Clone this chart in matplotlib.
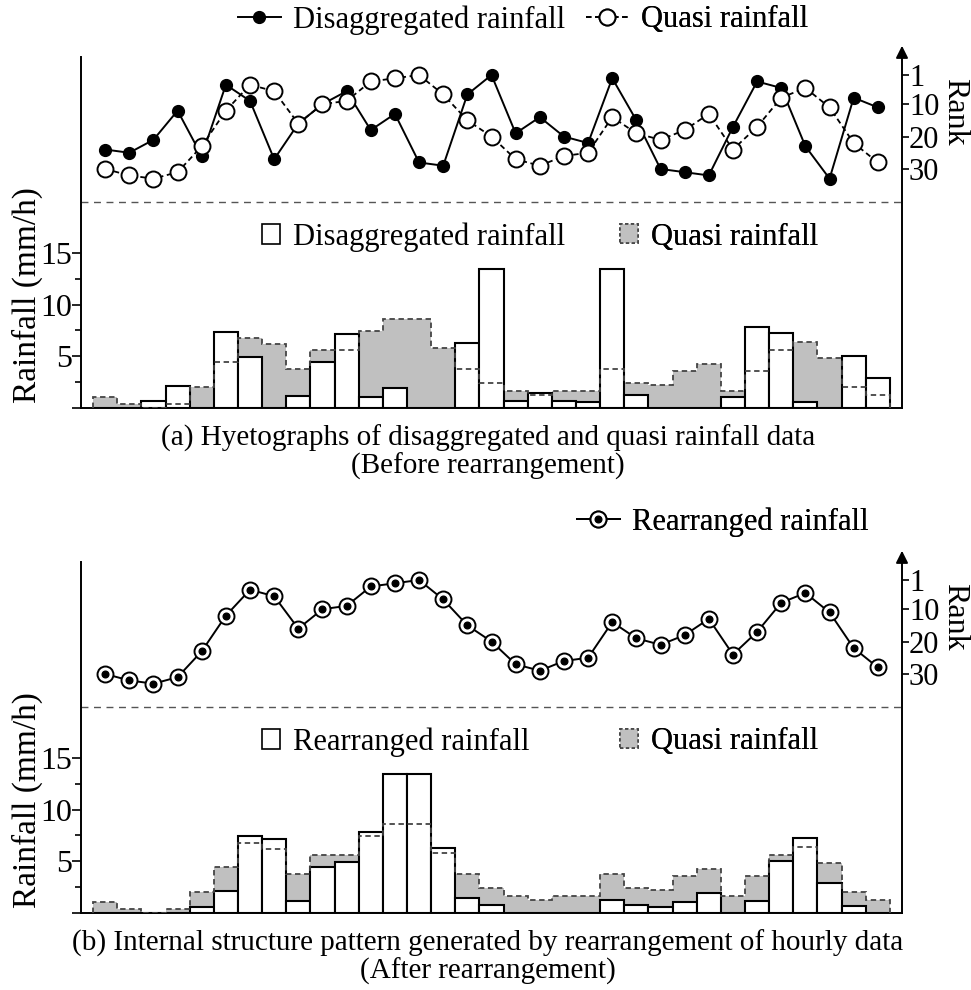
import numpy as np
import matplotlib.pyplot as plt
from matplotlib.patches import Patch

plt.rcParams['font.family'] = 'Liberation Serif'
plt.rcParams['font.size'] = 21

hours = np.arange(1, 34)

# hourly rainfall (mm/h)
disaggregated = [0, 0, 0.65, 2.14, 0, 7.38, 4.95, 0, 1.13, 4.4, 7.12, 1.0, 1.94, 0, 0, 6.31,
                 13.5, 0.68, 1.39, 0.66, 0.58, 13.5, 1.2, 0, 0, 0, 1.07, 7.8, 7.28, 0.56, 0, 5.0, 2.9]
quasi = [1.0, 0.4, 0, 0.4, 2.0, 4.4, 6.8, 6.2, 3.8, 5.6, 5.6, 7.4, 8.6, 8.6, 5.8, 3.8,
         2.4, 1.6, 1.2, 1.6, 1.6, 3.8, 2.4, 2.2, 3.6, 4.2, 1.6, 3.6, 5.6, 6.4, 4.8, 2.0, 1.2]
rearranged = [0, 0, 0, 0, 0.6, 2.1, 7.4, 7.15, 1.1, 4.43, 4.92, 7.83, 13.5, 13.5, 6.31, 1.42,
              0.72, 0, 0, 0, 0, 1.2, 0.71, 0.55, 1.0, 1.9, 0, 1.1, 5.0, 7.3, 2.9, 0.65, 0]

# ranks (1 = largest)
rank_disaggregated = [24, 25, 21, 12, 26, 4, 9, 27, 16, 10, 6, 18, 13, 28, 29, 7, 1,
                      19, 14, 20, 22, 2, 15, 30, 31, 32, 17, 3, 5, 23, 33, 8, 11]
rank_quasi = [30, 32, 33, 31, 23, 12, 4, 6, 16, 10, 9, 3, 2, 1, 7, 15, 20,
              27, 29, 26, 25, 14, 19, 21, 18, 13, 24, 17, 8, 5, 11, 22, 28]
rank_rearranged = [30, 32, 33, 31, 23, 12, 4, 6, 16, 10, 9, 3, 2, 1, 7, 15, 20,
                   27, 29, 26, 25, 14, 19, 21, 18, 13, 24, 17, 8, 5, 11, 22, 28]
rank_ticks = [1, 10, 20, 30]

W, H = 971, 990
fig = plt.figure(figsize=(W / 100, H / 100), dpi=100)

GRAY = '#c0c0c0'
DASH = '#444444'
LEG_FS = 22


def px(x, y):
    return x / W, 1 - y / H


def key(ax, handle, label, x, y, **kw):
    leg = ax.legend([handle], [label], loc='center left', bbox_to_anchor=px(x, y),
                    bbox_transform=fig.transFigure, frameon=False, borderpad=0,
                    borderaxespad=0, handletextpad=0.4, fontsize=LEG_FS, **kw)
    ax.add_artist(leg)


def panel(top, bars, bar_name, rank_series, caption):
    bottom = top + 350.7
    ax = fig.add_axes([81 / W, 1 - bottom / H, 821 / W, 350.7 / H])
    ax.set_xlim(0, 34)
    ax.set_ylim(0, 34.05)

    edges = np.arange(0.5, 34.5, 1)
    ax.bar(hours, quasi, width=1, color=GRAY, lw=0, zorder=1)
    ax.bar(hours, bars, width=1, facecolor='white', edgecolor='black', lw=1.5, zorder=2)
    ax.stairs(quasi, edges, baseline=0, color=DASH, lw=1.3, ls=(0, (3, 2)), zorder=3)
    ax.axhline(20, color='#555555', lw=1.0, ls=(0, (5, 4)), zorder=1)

    ax.set_xticks([])
    ax.set_yticks([0, 5, 10, 15])
    ax.set_yticklabels(['', '5', '10', '15'])
    ax.set_yticks([2.5, 7.5, 12.5], minor=True)
    ax.tick_params(axis='y', which='major', length=6.5, width=1.2, labelsize=23, pad=0)
    ax.tick_params(axis='y', which='minor', length=4.5, width=1.2)
    for s in ['top', 'right']:
        ax.spines[s].set_visible(False)
    for s in ['left', 'bottom']:
        ax.spines[s].set_linewidth(1.4)
    fig.text(*px(27, top - 57 + 295), 'Rainfall (mm/h)', rotation=90,
             ha='center', va='center', fontsize=24)

    # rank axis on the right
    ax2 = ax.twinx()
    ax2.set_ylim(103.7, -4.56)
    ax2.set_yticks(rank_ticks)
    ax2.tick_params(axis='y', length=5, width=1.2, labelsize=22, pad=0)
    for s in ['top', 'left', 'bottom']:
        ax2.spines[s].set_visible(False)
    ax2.spines['right'].set_linewidth(1.4)
    ax2.annotate('', xy=(1, 1.04), xytext=(1, 0.99), xycoords='axes fraction',
                 arrowprops=dict(arrowstyle='-|>', color='black', lw=1.4, mutation_scale=18))
    fig.text(*px(955, top - 57 + 112), 'Rank', rotation=-90, ha='center', va='center', fontsize=23)

    for handle, label, x, y in rank_series(ax2):
        key(ax2, handle, label, x, top - 57 + y, handlelength=1.4)

    key(ax, Patch(facecolor='white', edgecolor='black', lw=1.2), bar_name, 262, top - 57 + 237,
        handlelength=0.6, handleheight=0.6)
    key(ax, Patch(facecolor=GRAY, edgecolor=DASH, lw=1.2, ls=(0, (2, 1.5))), 'Quasi rainfall',
        620, top - 57 + 237, handlelength=0.6, handleheight=0.6)

    for i, line in enumerate(caption):
        fig.text(*px(488, bottom + 31 + 28 * i), line, ha='center', va='center', fontsize=21)
    return ax, ax2


def ranks_a(ax2):
    solid = ax2.plot(hours, rank_disaggregated, '-', color='black', lw=1.4,
                     marker='o', ms=8.5, mfc='black', mec='black', zorder=3)[0]
    open_ = ax2.plot(hours, rank_quasi, color='black', lw=1.3, ls=(0, (3, 2)),
                     marker='o', ms=11.5, mfc='white', mec='black', mew=1.4, zorder=4)[0]
    return [(solid, 'Disaggregated rainfall', 238, 20),
            (open_, 'Quasi rainfall', 586, 20)]


def ranks_b(ax2):
    outer = ax2.plot(hours, rank_rearranged, '-', color='black', lw=1.4,
                     marker='o', ms=11.5, mfc='white', mec='black', mew=1.4, zorder=3)[0]
    inner = ax2.plot(hours, rank_rearranged, ls='none', marker='o', ms=4.8,
                     mfc='black', mec='black', zorder=4)[0]
    return [((outer, inner), 'Rearranged rainfall', 577, 522 - 505)]


panel(57, disaggregated, 'Disaggregated rainfall', ranks_a,
      ['(a) Hyetographs of disaggregated and quasi rainfall data', '(Before rearrangement)'])
panel(562, rearranged, 'Rearranged rainfall', ranks_b,
      ['(b) Internal structure pattern generated by rearrangement of hourly data',
       '(After rearrangement)'])

fig.savefig('out.png', dpi=100)
